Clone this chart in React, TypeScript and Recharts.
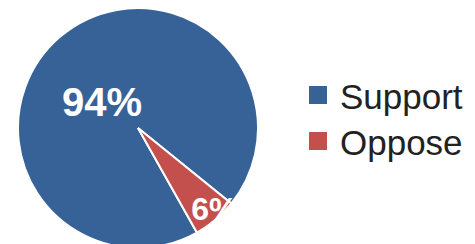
import { PieChart, Pie, Cell, Legend } from 'recharts';

const categories = ['Support', 'Oppose'];
const shares = [94, 6];
const colors = ['#366297', '#C4504D'];

const data = categories.map((name, i) => ({ name, value: shares[i] }));

const RADIAN = Math.PI / 180;
// label placement per slice: fraction of radius, angle nudge, font size
const labelR = [0.37, 0.93];
const labelTurn = [14, 3];
const labelSize = [40, 32];

const renderLabel = (props: any) => {
  const { cx, cy, midAngle, outerRadius, index, value } = props;
  const r = outerRadius * labelR[index];
  const a = (midAngle + labelTurn[index]) * RADIAN;
  const x = cx + r * Math.cos(a);
  const y = cy - r * Math.sin(a);
  return (
    <text
      x={x}
      y={y}
      fill="#fff"
      fontSize={labelSize[index]}
      fontWeight="bold"
      fontFamily="'Liberation Sans', Arial, sans-serif"
      textAnchor="middle"
      dominantBaseline="central"
    >
      {`${value}%`}
    </text>
  );
};

// keep legend in data order (recharts sorts the payload)
const LegendBox = () => (
  <div>
    {categories.map((name, i) => (
      <div key={name} style={{ display: 'flex', alignItems: 'center', height: 46 }}>
        <span style={{ width: 18, height: 18, background: colors[i], marginRight: 13 }} />
        <span
          style={{
            fontSize: 35,
            fontFamily: "'Liberation Sans', Arial, sans-serif",
            color: '#222',
            paddingTop: 3,
          }}
        >
          {name}
        </span>
      </div>
    ))}
  </div>
);

export default function App() {
  return (
    <div style={{ position: 'absolute', left: 0, top: 0, background: '#fff' }}>
      <PieChart width={475} height={244} margin={{ top: 0, right: 0, bottom: 0, left: 0 }}>
        <Pie
          data={data}
          dataKey="value"
          nameKey="name"
          cx={138}
          cy={128}
          outerRadius={120}
          startAngle={-39}
          endAngle={321}
          stroke="#fff"
          strokeWidth={2}
          label={renderLabel}
          labelLine={false}
          isAnimationActive={false}
        >
          {data.map((d, i) => (
            <Cell key={d.name} fill={colors[i]} />
          ))}
        </Pie>
        <Legend
          layout="vertical"
          content={<LegendBox />}
          wrapperStyle={{ left: 309, top: 72, width: 166 }}
        />
      </PieChart>
    </div>
  );
}
